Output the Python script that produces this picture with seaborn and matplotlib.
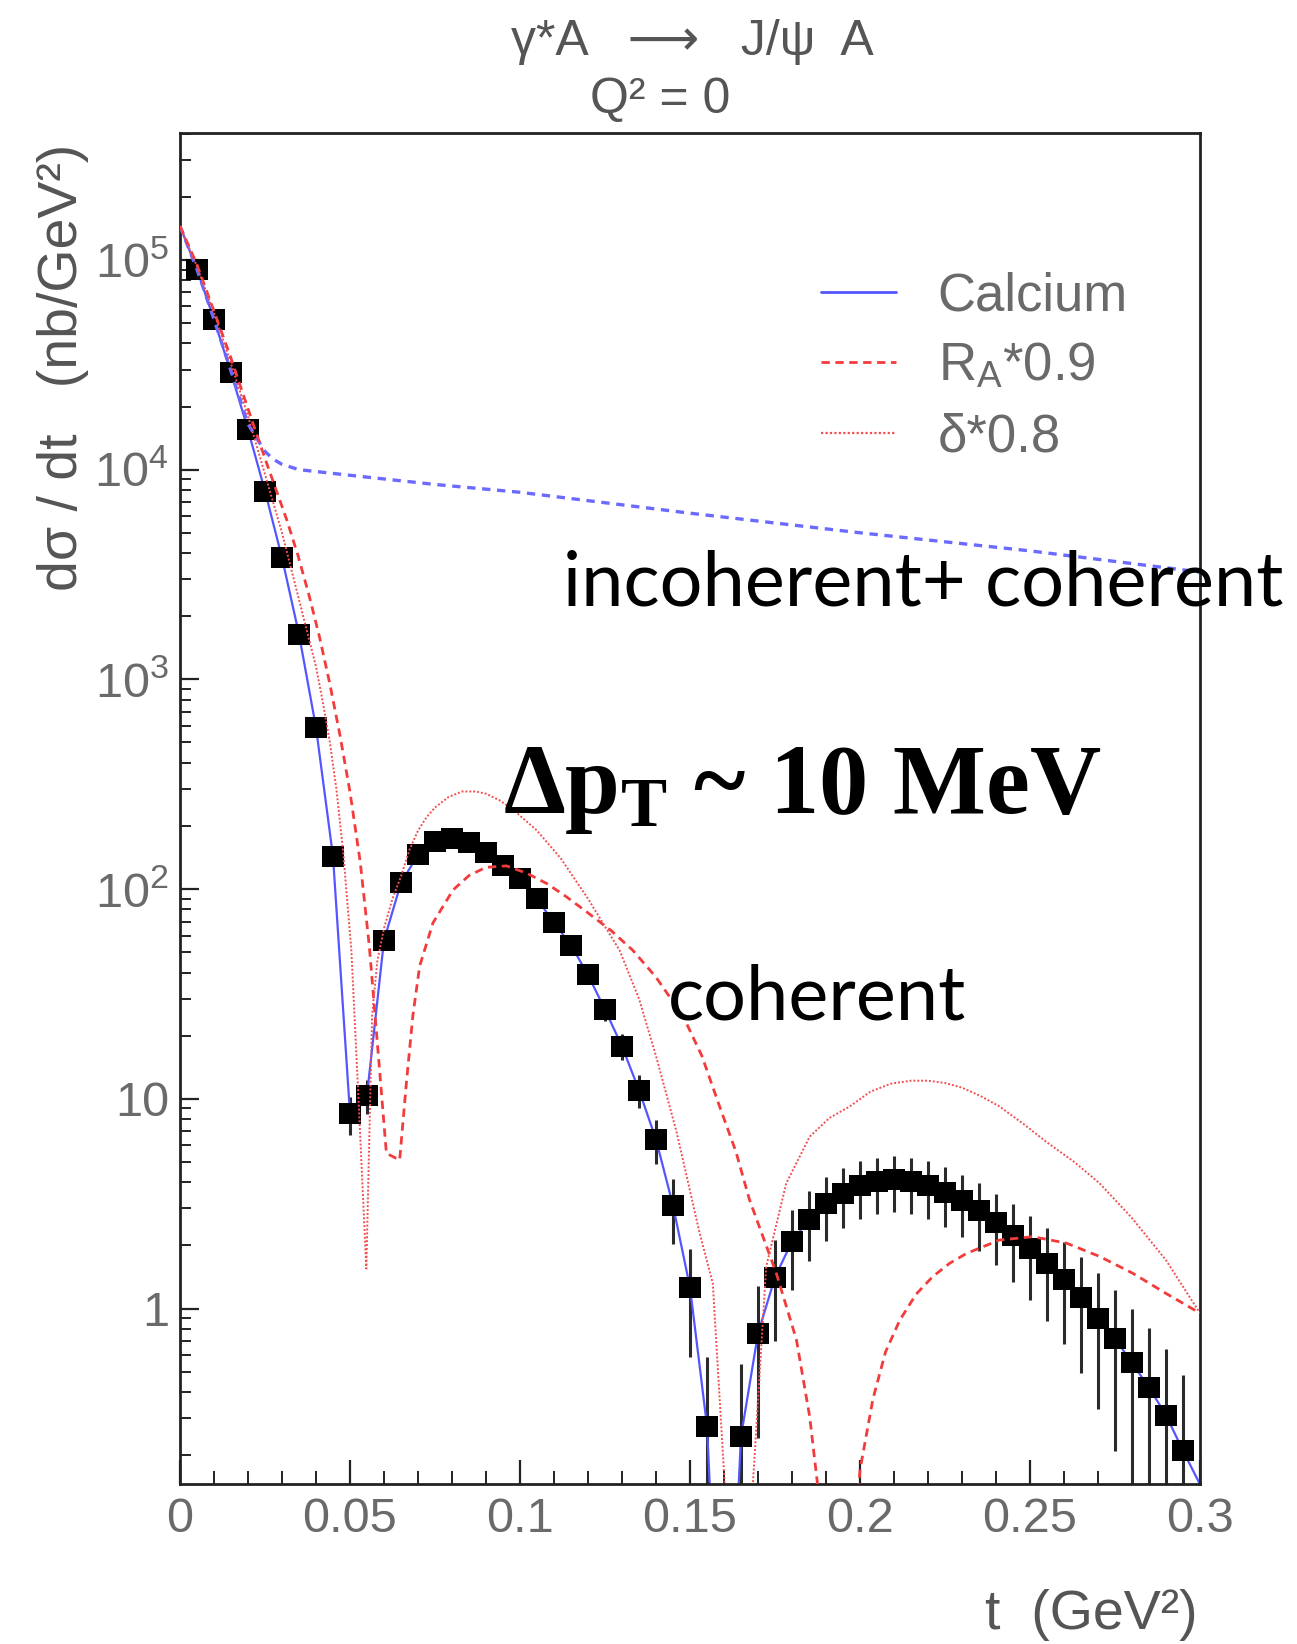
import matplotlib
matplotlib.use("Agg")
import matplotlib.pyplot as plt
from matplotlib.lines import Line2D
from matplotlib.ticker import FixedLocator, FixedFormatter, NullFormatter
import seaborn as sns

sns.set_theme(style="white")
plt.rcParams['font.family'] = ['Liberation Sans', 'DejaVu Sans']
plt.rcParams['mathtext.fontset'] = 'custom'
plt.rcParams['mathtext.rm'] = 'Liberation Serif:bold'
plt.rcParams['mathtext.bf'] = 'Liberation Serif:bold'
plt.rcParams['mathtext.it'] = 'Liberation Serif:italic:bold'

# ---------------- data ----------------
t_data = [0.005, 0.010, 0.015, 0.020, 0.025, 0.030, 0.035, 0.040, 0.045, 0.050,
          0.055, 0.060, 0.065, 0.070, 0.075, 0.080, 0.085, 0.090, 0.095, 0.100,
          0.105, 0.110, 0.115, 0.120, 0.125, 0.130, 0.135, 0.140, 0.145, 0.150,
          0.155, 0.165, 0.170, 0.175, 0.180, 0.185, 0.190, 0.195, 0.200, 0.205,
          0.210, 0.215, 0.220, 0.225, 0.230, 0.235, 0.240, 0.245, 0.250, 0.255,
          0.260, 0.265, 0.270, 0.275, 0.280, 0.285, 0.290, 0.295]
y_data = [9.0e4, 5.2e4, 2.9e4, 1.55e4, 7.9e3, 3.8e3, 1.64e3, 589, 143, 8.5,
          10.4, 57, 107, 146, 168, 174, 166, 150, 130, 112,
          90, 69, 54, 39, 26.6, 17.8, 11.0, 6.4, 3.1, 1.26,
          0.275, 0.245, 0.76, 1.41, 2.09, 2.66, 3.16, 3.55, 3.85, 4.03,
          4.12, 4.03, 3.85, 3.59, 3.27, 2.92, 2.57, 2.24, 1.93, 1.64,
          1.38, 1.13, 0.90, 0.72, 0.55, 0.42, 0.31, 0.21]
err_data = [180, 137, 102, 75, 53, 37, 24, 14.6, 7.2, 1.75,
            1.9, 4.5, 6.2, 7.3, 7.8, 7.9, 7.7, 7.3, 6.8, 6.3,
            5.7, 5.0, 4.4, 3.7, 3.1, 2.5, 2.0, 1.5, 1.06, 0.67,
            0.31, 0.30, 0.52, 0.71, 0.87, 0.98, 1.07, 1.13, 1.18, 1.20,
            1.22, 1.20, 1.18, 1.14, 1.08, 1.03, 0.96, 0.90, 0.83, 0.77,
            0.70, 0.64, 0.57, 0.51, 0.45, 0.39, 0.33, 0.27]

t_calcium = [0.000, 0.005, 0.010, 0.015, 0.020, 0.025, 0.030, 0.035, 0.040, 0.045,
             0.050, 0.055, 0.060, 0.065, 0.070, 0.075, 0.080, 0.085, 0.090, 0.095,
             0.100, 0.105, 0.110, 0.115, 0.120, 0.125, 0.130, 0.135, 0.140, 0.145,
             0.150, 0.155, 0.160, 0.165, 0.170, 0.175, 0.180, 0.185, 0.190, 0.195,
             0.200, 0.205, 0.210, 0.215, 0.220, 0.225, 0.230, 0.235, 0.240, 0.245,
             0.250, 0.255, 0.260, 0.265, 0.270, 0.275, 0.280, 0.285, 0.290, 0.295,
             0.300]
y_calcium = [1.45e5, 9.0e4, 5.2e4, 2.9e4, 1.55e4, 7.9e3, 3.8e3, 1.64e3, 589, 143,
             8.5, 10.4, 57, 107, 146, 168, 174, 166, 150, 130,
             112, 90, 69, 54, 39, 26.6, 17.8, 11.0, 6.4, 3.1,
             1.26, 0.275, 0.005, 0.245, 0.76, 1.41, 2.09, 2.66, 3.16, 3.55,
             3.85, 4.03, 4.12, 4.03, 3.85, 3.59, 3.27, 2.92, 2.57, 2.24,
             1.93, 1.64, 1.38, 1.13, 0.90, 0.72, 0.55, 0.42, 0.31, 0.21,
             0.145]

t_incoh = [0.000, 0.005, 0.010, 0.015, 0.020, 0.025, 0.0275, 0.030, 0.035, 0.050,
           0.075, 0.100, 0.150, 0.200, 0.250, 0.300]
y_incoh = [1.45e5, 9.0e4, 5.2e4, 2.95e4, 1.65e4, 1.22e4, 1.12e4, 1.06e4, 1.0e4, 9.4e3,
           8.5e3, 7.8e3, 6.2e3, 5.0e3, 4.1e3, 3.25e3]

t_ra = [0.000, 0.005, 0.010, 0.015, 0.020, 0.025, 0.0284, 0.0315, 0.0347, 0.038,
        0.041, 0.044, 0.047, 0.050, 0.053, 0.0557, 0.0585, 0.0607, 0.0646, 0.0666,
        0.0685, 0.0705, 0.0744, 0.0803, 0.085, 0.090, 0.096, 0.102, 0.108, 0.1136,
        0.120, 0.127, 0.1332, 0.140, 0.148, 0.1535, 0.1587, 0.1635, 0.1675, 0.1754,
        0.1813, 0.1852, 0.189, 0.1965, 0.200, 0.2038, 0.2075, 0.2117, 0.2165, 0.2214,
        0.2263, 0.2313, 0.241, 0.2508, 0.2607, 0.2705, 0.2803, 0.290, 0.300]
y_ra = [1.45e5, 9.5e4, 5.7e4, 3.4e4, 1.95e4, 1.13e4, 7.9e3, 5.7e3, 3.9e3, 2.5e3,
        1.6e3, 964, 547, 290, 135, 53, 15, 5.5, 5.1, 12,
        25, 43, 69, 99, 116, 127, 129, 119, 106, 92,
        77, 63, 51, 38, 24.7, 16, 9.2, 5.6, 3.3, 1.47,
        0.71, 0.305, 0.09, 0.03, 0.17, 0.37, 0.62, 0.88, 1.17, 1.42,
        1.64, 1.83, 2.12, 2.2, 2.05, 1.77, 1.47, 1.18, 0.95]

t_delta = [0.000, 0.005, 0.010, 0.015, 0.020, 0.025, 0.030, 0.035, 0.040, 0.042,
           0.044, 0.046, 0.048, 0.0504, 0.0525, 0.0548, 0.0565, 0.058, 0.060, 0.0625,
           0.065, 0.0675, 0.070, 0.0725, 0.075, 0.079, 0.083, 0.087, 0.090, 0.094,
           0.098, 0.105, 0.112, 0.120, 0.1293, 0.135, 0.140, 0.146, 0.1528, 0.1567,
           0.1602, 0.1635, 0.1685, 0.1724, 0.1783, 0.1852, 0.191, 0.197, 0.203, 0.209,
           0.215, 0.220, 0.225, 0.230, 0.2355, 0.241, 0.248, 0.255, 0.263, 0.2705,
           0.280, 0.290, 0.300]
y_delta = [1.45e5, 9.3e4, 5.6e4, 3.2e4, 1.8e4, 9.5e3, 5.0e3, 2.4e3, 1.15e3, 780,
           510, 300, 150, 51, 10, 1.55, 25, 45, 65, 90,
           115, 154, 190, 220, 245, 275, 292, 292, 285, 265,
           239, 190, 140, 90, 51, 30, 16, 7, 2.3, 1.32,
           0.146, 0.01, 0.146, 1.58, 3.95, 6.6, 8.1, 9.2, 10.8, 11.8,
           12.2, 12.2, 11.9, 11.3, 10.3, 9.2, 7.6, 6.2, 5.0, 3.95,
           2.7, 1.7, 0.95]

legend_labels = ["Calcium", "R$_{\\mathdefault{A}}$*0.9", "δ*0.8"]
x_ticks = [0, 0.05, 0.1, 0.15, 0.2, 0.25, 0.3]
x_ticklabels = ["0", "0.05", "0.1", "0.15", "0.2", "0.25", "0.3"]
y_ticks = [1, 10, 1e2, 1e3, 1e4, 1e5]
y_ticklabels = ["1", "10", r"$\mathdefault{10^{2}}$", r"$\mathdefault{10^{3}}$",
                r"$\mathdefault{10^{4}}$", r"$\mathdefault{10^{5}}$"]

# ---------------- styles ----------------
W, H = 1297, 1644
GRAY = '#6a6a6a'
BLUE = '#5555ff'
RED = '#f23c3c'
RED2 = '#f25050'
ls_incoh = (0, (2.5, 2.0))
ls_ra = (0, (3.0, 2.0))
ls_delta = (0, (1.0, 1.0))

fig = plt.figure(figsize=(W / 100, H / 100), dpi=100)
ax = fig.add_axes([180 / W, (H - 1484) / H, 1020 / W, 1351 / H])
ax.set_yscale('log')

# data error bars and markers
lo = [max(y - e, 1e-3) for y, e in zip(y_data, err_data)]
hi = [y + e for y, e in zip(y_data, err_data)]
ax.vlines(t_data, lo, hi, colors='#2a2a2a', lw=2.2, zorder=2)

sns.lineplot(x=t_calcium, y=y_calcium, ax=ax, color=BLUE, lw=1.6,
             estimator=None, sort=False, zorder=2)
sns.scatterplot(x=t_data, y=y_data, ax=ax, marker='s', s=230, color='black',
                edgecolor='none', zorder=3)
sns.lineplot(x=t_incoh, y=y_incoh, ax=ax, color='#6a6aff', lw=2.4,
             linestyle=ls_incoh, estimator=None, sort=False, zorder=4)
sns.lineplot(x=t_ra, y=y_ra, ax=ax, color=RED, lw=2.0,
             linestyle=ls_ra, estimator=None, sort=False, zorder=4)
sns.lineplot(x=t_delta, y=y_delta, ax=ax, color=RED2, lw=1.4,
             linestyle=ls_delta, estimator=None, sort=False, zorder=4)

ax.set_xlim(0, 0.3)
ax.set_ylim(0.1456, 4.03e5)

# ticks
ax.xaxis.set_major_locator(FixedLocator(x_ticks))
ax.xaxis.set_major_formatter(FixedFormatter(x_ticklabels))
ax.xaxis.set_minor_locator(FixedLocator([i / 100 for i in range(31)]))
ax.yaxis.set_major_locator(FixedLocator(y_ticks))
ax.yaxis.set_major_formatter(FixedFormatter(y_ticklabels))
minor_y = [m * 10 ** k for k in range(-1, 6) for m in range(2, 10)]
ax.yaxis.set_minor_locator(FixedLocator(minor_y))
ax.yaxis.set_minor_formatter(NullFormatter())
ax.tick_params(axis='both', which='both', direction='in', color='#222222',
               labelcolor=GRAY, labelsize=35, bottom=True, left=True,
               top=False, right=False)
ax.tick_params(axis='x', which='major', length=17, width=1.6, pad=9)
ax.tick_params(axis='x', which='minor', length=9.5, width=1.4)
ax.tick_params(axis='y', which='major', length=14, width=1.6, pad=8)
ax.tick_params(axis='y', which='minor', length=8, width=1.4)
for sp in ax.spines.values():
    sp.set_color('#222222')
    sp.set_linewidth(2.0)
ax.set_facecolor('white')

# legend
handles = [Line2D([], [], color=BLUE, lw=2.0),
           Line2D([], [], color=RED, lw=2.0, linestyle=ls_ra),
           Line2D([], [], color=RED2, lw=1.6, linestyle=ls_delta)]
leg = ax.legend(handles, legend_labels, loc='upper left',
                bbox_to_anchor=(0.628, 0.8977), frameon=False, fontsize=38,
                handlelength=1.42, handletextpad=0.8, labelspacing=0.39,
                borderpad=0, borderaxespad=0)
for txt in leg.get_texts():
    txt.set_color(GRAY)

# axis labels (ROOT style)
fig.text(63 / W, 1 - 367 / H, "dσ / dt   (nb/GeV²)", rotation=90, ha='center',
         va='center', fontsize=40, color='#555555')
fig.text(1198 / W, 1 - 1615 / H, "t  (GeV²)", ha='right', va='center',
         fontsize=40, color='#555555')

# title
fig.text(692 / W, 1 - 42 / H, "γ*A   ⟶   J/ψ  A", ha='center', va='center',
         fontsize=36, color='#555555')
fig.text(660 / W, 1 - 100 / H, "Q² = 0", ha='center', va='center',
         fontsize=36, color='#555555')

# annotations
fig.text(563 / W, 1 - 606 / H, "incoherent+ coherent", ha='left', va='baseline',
         fontsize=54.5, family=['Lato', 'DejaVu Sans'], color='black')
fig.text(668 / W, 1 - 1019 / H, "coherent", ha='left', va='baseline',
         fontsize=54.5, family=['Lato', 'DejaVu Sans'], color='black')
fig.text(503 / W, 1 - 813 / H, r"Δp$_\mathrm{T}$ ~ 10 MeV", ha='left',
         va='baseline', fontsize=71, family=['Liberation Serif', 'DejaVu Serif'],
         fontweight='bold', color='black')

fig.savefig("out.png", dpi=100, facecolor='white')
